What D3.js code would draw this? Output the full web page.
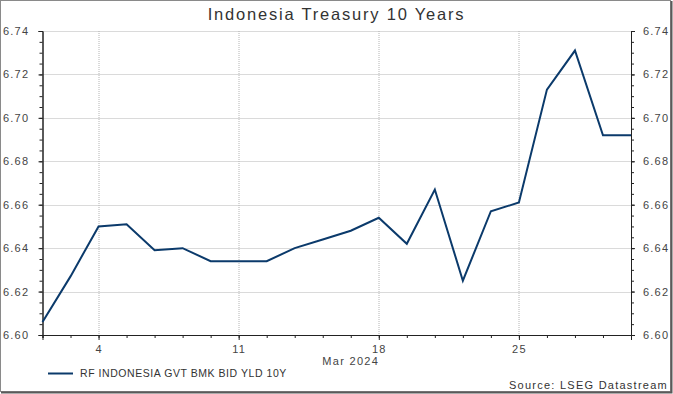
<!DOCTYPE html>
<html>
<head>
<meta charset="utf-8">
<script src="https://cdn.jsdelivr.net/npm/d3@7"></script>
<style>
  body { margin: 0; background: #fff; }
  svg { display: block; font-family: "Liberation Sans", Arial, sans-serif; }
</style>
</head>
<body>
<div id="chart"></div>
<script>
// trading days, Feb 29 - Mar 29 2024
const dates = ['2024-02-29', '2024-03-01', '2024-03-04', '2024-03-05', '2024-03-06', '2024-03-07', '2024-03-08',
  '2024-03-11', '2024-03-12', '2024-03-13', '2024-03-14', '2024-03-15',
  '2024-03-18', '2024-03-19', '2024-03-20', '2024-03-21', '2024-03-22',
  '2024-03-25', '2024-03-26', '2024-03-27', '2024-03-28', '2024-03-29'];
const yields = [6.606, 6.627, 6.650, 6.651, 6.639, 6.640, 6.634,
  6.634, 6.634, 6.640, 6.644, 6.648,
  6.654, 6.642, 6.667, 6.625, 6.657,
  6.661, 6.713, 6.731, 6.692, 6.692];
const yTicks = [6.60, 6.62, 6.64, 6.66, 6.68, 6.70, 6.72, 6.74];
const seriesName = 'RF INDONESIA GVT BMK BID YLD 10Y';

const width = 673, height = 394;
const margin = { top: 31, right: 42, bottom: 59, left: 42.5 };
const innerW = width - margin.left - margin.right;
const innerH = height - margin.top - margin.bottom;

const svg = d3.select('#chart').append('svg')
  .attr('width', width)
  .attr('height', height);

// outer frame
svg.append('rect')
  .attr('x', 0.5).attr('y', 0.5)
  .attr('width', width - 3).attr('height', height - 3)
  .attr('fill', 'none').attr('stroke', '#8a8a8a');
svg.append('path')
  .attr('d', `M${width - 1.5},1 V${height - 1.5} H1`)
  .attr('fill', 'none').attr('stroke', '#5a5a5a').attr('stroke-width', 2);

svg.append('text')
  .attr('x', width / 2).attr('y', 20)
  .attr('text-anchor', 'middle')
  .attr('font-size', 16.5)
  .attr('letter-spacing', 1.8)
  .attr('fill', '#333')
  .text('Indonesia Treasury 10 Years');

const g = svg.append('g').attr('transform', `translate(${margin.left},${margin.top})`);

const x = d3.scalePoint().domain(dates).range([0, innerW]);
const y = d3.scaleLinear().domain([6.60, 6.74]).range([innerH, 0]);

const isMonday = d => new Date(d + 'T00:00:00').getDay() === 1;
const mondays = dates.filter(isMonday);

// grid
g.append('g').selectAll('line')
  .data(yTicks.slice(1))
  .join('line')
  .attr('x1', 0).attr('x2', innerW)
  .attr('y1', d => Math.round(y(d)) + 0.5).attr('y2', d => Math.round(y(d)) + 0.5)
  .attr('stroke', '#b4b4b4').attr('stroke-dasharray', '1,1');
g.append('g').selectAll('line')
  .data(mondays)
  .join('line')
  .attr('x1', d => Math.round(x(d)) + 0.5).attr('x2', d => Math.round(x(d)) + 0.5)
  .attr('y1', 0).attr('y2', innerH)
  .attr('stroke', '#b4b4b4').attr('stroke-dasharray', '1,1');

// minor y ticks every 0.005
const minorY = d3.range(6.60, 6.7401, 0.005).map(v => +v.toFixed(3));

function styleAxis(sel) {
  sel.select('.domain').attr('stroke', '#222');
  sel.selectAll('.tick line').attr('stroke', '#222');
  sel.selectAll('.tick text').attr('fill', '#444').attr('font-size', 11)
    .attr('letter-spacing', 1.2)
    .attr('font-family', '"Liberation Sans", Arial, sans-serif');
}

// left axis
const leftMinor = g.append('g')
  .call(d3.axisLeft(y).tickValues(minorY).tickSize(3).tickFormat(''));
styleAxis(leftMinor);
const left = g.append('g')
  .call(d3.axisLeft(y).tickValues(yTicks).tickSize(4).tickPadding(9).tickFormat(d3.format('.2f')));
styleAxis(left);
left.selectAll('.tick text').attr('x', -42.5 + 3).attr('text-anchor', 'start');

// right axis
const rightMinor = g.append('g').attr('transform', `translate(${innerW},0)`)
  .call(d3.axisRight(y).tickValues(minorY).tickSize(3).tickFormat(''));
styleAxis(rightMinor);
const right = g.append('g').attr('transform', `translate(${innerW},0)`)
  .call(d3.axisRight(y).tickValues(yTicks).tickSize(4).tickPadding(8).tickFormat(d3.format('.2f')));
styleAxis(right);

// bottom axis
const bottomMinor = g.append('g').attr('transform', `translate(0,${innerH})`)
  .call(d3.axisBottom(x).tickSize(3).tickFormat(''));
styleAxis(bottomMinor);
const bottom = g.append('g').attr('transform', `translate(0,${innerH})`)
  .call(d3.axisBottom(x).tickValues(mondays).tickSize(5).tickPadding(5)
    .tickFormat(d => String(new Date(d + 'T00:00:00').getDate())));
styleAxis(bottom);

g.append('text')
  .attr('x', (x(dates[0]) + x(dates[dates.length - 1])) / 2 + 14)
  .attr('y', innerH + 30)
  .attr('text-anchor', 'middle')
  .attr('font-size', 11)
  .attr('letter-spacing', 1.3)
  .attr('fill', '#444')
  .text('Mar 2024');

// series line
const line = d3.line()
  .x((d, i) => x(dates[i]))
  .y(d => y(d));

g.append('path')
  .datum(yields)
  .attr('fill', 'none')
  .attr('stroke', '#0b3a6b')
  .attr('stroke-width', 2)
  .attr('stroke-linejoin', 'miter')
  .attr('d', line);

// legend
svg.append('line')
  .attr('x1', 48).attr('x2', 73)
  .attr('y1', 373.5).attr('y2', 373.5)
  .attr('stroke', '#0b3a6b').attr('stroke-width', 2);
svg.append('text')
  .attr('x', 80).attr('y', 377)
  .attr('font-size', 10.5)
  .attr('letter-spacing', 0.55)
  .attr('fill', '#333')
  .text(seriesName);

svg.append('text')
  .attr('x', width - 5).attr('y', 389)
  .attr('text-anchor', 'end')
  .attr('font-size', 11)
  .attr('letter-spacing', 1.25)
  .attr('fill', '#333')
  .text('Source: LSEG Datastream');
</script>
</body>
</html>
